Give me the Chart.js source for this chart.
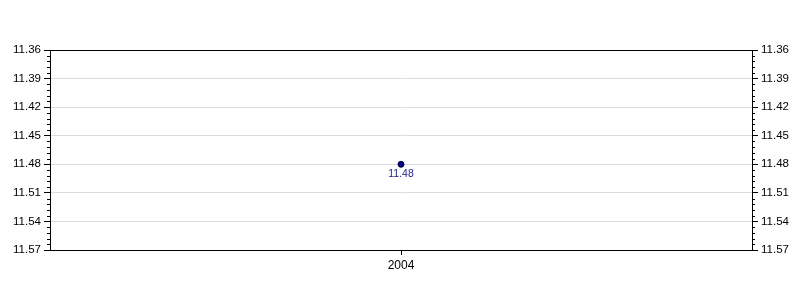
<!DOCTYPE html>
<html>
<head>
<meta charset="utf-8">
<script src="https://cdn.jsdelivr.net/npm/chart.js@4/dist/chart.umd.min.js"></script>
<style>
  html, body { margin: 0; padding: 0; background: #fff; }
  #wrap { width: 800px; height: 300px; }
</style>
</head>
<body>
<div id="wrap"><canvas id="c" width="800" height="300"></canvas></div>
<script>
'use strict';

// ── Data ─────────────────────────────────────────────────────────────────────
const years = ['2004'];
const values = [11.48];
const yMin = 11.36;
const yMax = 11.57;
const yStep = 0.03;
const minorPerMajor = 5;

const FAMILY = '"Liberation Sans", Arial, sans-serif';

// ── Plugins ──────────────────────────────────────────────────────────────────
const framePlugin = {
  id: 'frame',
  afterDraw(chart) {
    const { ctx, chartArea: a } = chart;
    ctx.save();
    ctx.strokeStyle = '#000';
    ctx.lineWidth = 1;
    ctx.strokeRect(Math.round(a.left) + 0.5, Math.round(a.top) + 0.5,
      Math.round(a.right - a.left), Math.round(a.bottom - a.top));

    // minor ticks on both y axes
    for (const id of ['y', 'y2']) {
      const s = chart.scales[id];
      const minor = yStep / minorPerMajor;
      const n = Math.round((yMax - yMin) / minor);
      for (let i = 0; i <= n; i++) {
        if (i % minorPerMajor === 0) continue;
        const py = Math.round(s.getPixelForValue(yMin + i * minor)) + 0.5;
        ctx.beginPath();
        if (id === 'y') { ctx.moveTo(a.left, py); ctx.lineTo(a.left - 3, py); }
        else { ctx.moveTo(a.right, py); ctx.lineTo(a.right + 3, py); }
        ctx.stroke();
      }
    }

    // value labels
    const meta = chart.getDatasetMeta(0);
    ctx.fillStyle = '#1c1c8c';
    ctx.font = '10.5px ' + FAMILY;
    ctx.textAlign = 'center';
    ctx.textBaseline = 'top';
    meta.data.forEach((pt, i) => {
      ctx.fillText(values[i].toFixed(2), pt.x, pt.y + 5);
    });
    ctx.restore();
  }
};

// ── Chart ────────────────────────────────────────────────────────────────────
const yAxis = (position) => ({
  type: 'linear',
  position,
  reverse: true,
  min: yMin,
  max: yMax,
  afterBuildTicks(scale) {
    const ticks = [];
    for (let v = yMin; v <= yMax + 1e-9; v += yStep) ticks.push({ value: +v.toFixed(2) });
    scale.ticks = ticks;
  },
  afterFit(scale) { scale.width = position === 'left' ? 50 : 48; },
  ticks: {
    color: '#000',
    font: { family: FAMILY, size: 11.5 },
    padding: 3,
    callback: v => v.toFixed(2)
  },
  grid: {
    drawOnChartArea: position === 'left',
    color: '#dcdcdc',
    tickColor: '#000',
    tickLength: 6
  },
  border: { color: '#000' }
});

new Chart(document.getElementById('c'), {
  type: 'line',
  data: {
    labels: years,
    datasets: [{
      data: values,
      showLine: false,
      pointRadius: 3,
      pointBackgroundColor: '#000080',
      pointBorderColor: '#000040',
      pointBorderWidth: 1,
      yAxisID: 'y'
    }]
  },
  options: {
    responsive: false,
    animation: false,
    layout: { padding: { top: 50, left: 0, right: 0, bottom: 0 } },
    plugins: {
      legend: { display: false },
      tooltip: { enabled: false }
    },
    scales: {
      x: {
        offset: true,
        afterFit(scale) { scale.height = 50; },
        ticks: { color: '#000', font: { family: FAMILY, size: 12 }, padding: 3 },
        grid: { drawOnChartArea: false, tickColor: '#000', tickLength: 5 },
        border: { color: '#000' }
      },
      y: yAxis('left'),
      y2: yAxis('right')
    }
  },
  plugins: [framePlugin]
});
</script>
</body>
</html>
